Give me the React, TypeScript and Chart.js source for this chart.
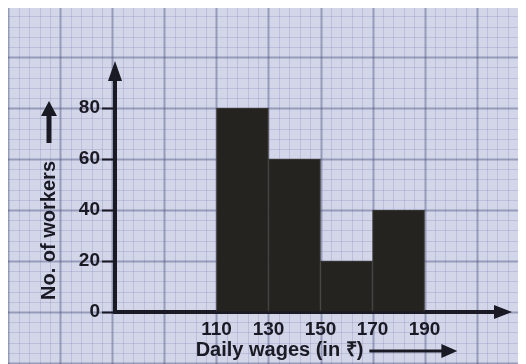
import React, { useEffect, useRef } from "react";
import { Chart, registerables } from "chart.js";

Chart.register(...registerables);

const classStarts = [110, 130, 150, 170];
const classWidth = 20;
const workers = [80, 60, 20, 40];
const xTickValues = [110, 130, 150, 170, 190];
const yTickValues = [0, 20, 40, 60, 80];
const xTitle = "Daily wages (in ₹)";
const yTitle = "No. of workers";

const INK = "#1a1a24";
const FONT = "'Liberation Sans', Arial, sans-serif";

const paperPlugin = {
  id: "paper",
  beforeDraw(chart: any) {
    const { ctx, width, height, scales } = chart;
    const x = scales.x;
    const y = scales.y;
    ctx.save();
    ctx.fillStyle = "#d3d5e9";
    ctx.fillRect(0, 0, width, height);
    const dx = Math.abs(x.getPixelForValue(114) - x.getPixelForValue(110));
    const dy = Math.abs(y.getPixelForValue(0) - y.getPixelForValue(4));
    const x0 = x.getPixelForValue(110);
    const y0 = y.getPixelForValue(0);
    const startI = -Math.ceil(x0 / dx) - 1;
    const endI = Math.ceil((width - x0) / dx) + 1;
    for (let i = startI; i <= endI; i++) {
      const px = x0 + i * dx;
      const major = ((i % 5) + 5) % 5 === 0;
      ctx.strokeStyle = major ? "rgba(70,76,122,0.42)" : "rgba(100,106,160,0.2)";
      ctx.lineWidth = major ? 2 : 1;
      ctx.beginPath();
      ctx.moveTo(Math.round(px) + 0.5, 0);
      ctx.lineTo(Math.round(px) + 0.5, height);
      ctx.stroke();
    }
    const startJ = -Math.ceil((height - y0) / dy) - 1;
    const endJ = Math.ceil(y0 / dy) + 1;
    for (let j = startJ; j <= endJ; j++) {
      const py = y0 - j * dy;
      const major = ((j % 5) + 5) % 5 === 0;
      ctx.strokeStyle = major ? "rgba(70,76,122,0.42)" : "rgba(100,106,160,0.2)";
      ctx.lineWidth = major ? 2 : 1;
      ctx.beginPath();
      ctx.moveTo(0, Math.round(py) + 0.5);
      ctx.lineTo(width, Math.round(py) + 0.5);
      ctx.stroke();
    }
    ctx.restore();
  },
  afterDraw(chart: any) {
    const { ctx, chartArea, scales } = chart;
    const { left, right, top, bottom } = chartArea;
    ctx.save();
    ctx.fillStyle = INK;
    ctx.strokeStyle = INK;
    // y axis arrow
    ctx.beginPath();
    ctx.moveTo(left, top - 14);
    ctx.lineTo(left - 7, top + 6);
    ctx.lineTo(left + 7, top + 6);
    ctx.closePath();
    ctx.fill();
    // x axis arrow
    ctx.beginPath();
    ctx.moveTo(right + 12, bottom);
    ctx.lineTo(right - 6, bottom - 7);
    ctx.lineTo(right - 6, bottom + 7);
    ctx.closePath();
    ctx.fill();

    // x title
    ctx.font = `bold 20px ${FONT}`;
    ctx.textBaseline = "middle";
    ctx.textAlign = "left";
    const tx = scales.x.getPixelForValue(102);
    const ty = bottom + 38;
    ctx.fillText(xTitle, tx, ty);
    const tw = ctx.measureText(xTitle).width;
    const ax0 = tx + tw + 6;
    const ax1 = ax0 + 88;
    ctx.lineWidth = 3;
    ctx.beginPath();
    ctx.moveTo(ax0, ty + 1);
    ctx.lineTo(ax1 - 10, ty + 1);
    ctx.stroke();
    ctx.beginPath();
    ctx.moveTo(ax1, ty + 1);
    ctx.lineTo(ax1 - 16, ty - 6);
    ctx.lineTo(ax1 - 16, ty + 8);
    ctx.closePath();
    ctx.fill();

    // y title (rotated)
    const yx = left - 66;
    const yc = scales.y.getPixelForValue(32);
    ctx.save();
    ctx.translate(yx, yc);
    ctx.rotate(-Math.PI / 2);
    ctx.textAlign = "center";
    ctx.fillText(yTitle, 0, 0);
    const yw = ctx.measureText(yTitle).width;
    const b0 = yw / 2 + 18;
    const b1 = b0 + 42;
    ctx.lineWidth = 5;
    ctx.beginPath();
    ctx.moveTo(b0, 0);
    ctx.lineTo(b1 - 10, 0);
    ctx.stroke();
    ctx.beginPath();
    ctx.moveTo(b1, 0);
    ctx.lineTo(b1 - 15, -8);
    ctx.lineTo(b1 - 15, 8);
    ctx.closePath();
    ctx.fill();
    ctx.restore();
    ctx.restore();
  },
};

export default function App() {
  const ref = useRef<HTMLCanvasElement | null>(null);
  useEffect(() => {
    document.body.style.background = "#ffffff";
    const canvas = ref.current;
    if (!canvas) return;
    const data = classStarts.map((s, i) => ({ x: s + classWidth / 2, y: workers[i] }));
    const chart = new Chart(canvas, {
      type: "bar",
      data: {
        datasets: [
          {
            data: data as any,
            backgroundColor: "#24231f",
            borderColor: "#3c3b37",
            borderWidth: 1,
            barPercentage: 1,
            categoryPercentage: 1,
          },
        ],
      },
      plugins: [paperPlugin],
      options: {
        animation: false,
        responsive: false,
        maintainAspectRatio: false,
        layout: { padding: { top: 67, right: 26, left: 0, bottom: 0 } },
        plugins: { legend: { display: false }, tooltip: { enabled: false } },
        scales: {
          x: {
            type: "linear",
            offset: false,
            min: 71,
            max: 219,
            afterBuildTicks: (scale: any) => {
              scale.ticks = xTickValues.map((v) => ({ value: v }));
            },
            afterFit: (scale: any) => {
              scale.height = 52;
            },
            grid: { display: true, drawOnChartArea: false, drawTicks: false },
            border: { display: true, color: INK, width: 4 },
            ticks: {
              padding: 6,
              color: INK,
              font: { family: FONT, size: 19, weight: "bold" },
              maxRotation: 0,
              autoSkip: false,
              callback: (v: any) => String(v),
            },
          },
          y: {
            type: "linear",
            min: 0,
            max: 93,
            afterBuildTicks: (scale: any) => {
              scale.ticks = yTickValues.map((v) => ({ value: v }));
            },
            afterFit: (scale: any) => {
              scale.width = 107;
            },
            grid: {
              display: true,
              drawOnChartArea: false,
              drawTicks: true,
              tickLength: 13,
              tickColor: INK,
              tickWidth: 2,
            },
            border: { display: true, color: INK, width: 4 },
            ticks: {
              padding: 2,
              color: INK,
              font: { family: FONT, size: 19, weight: "bold" },
              autoSkip: false,
              callback: (v: any) => String(v),
            },
          },
        },
      },
    });
    return () => chart.destroy();
  }, []);
  return <canvas ref={ref} width={518} height={356} style={{ display: "block" }} />;
}
